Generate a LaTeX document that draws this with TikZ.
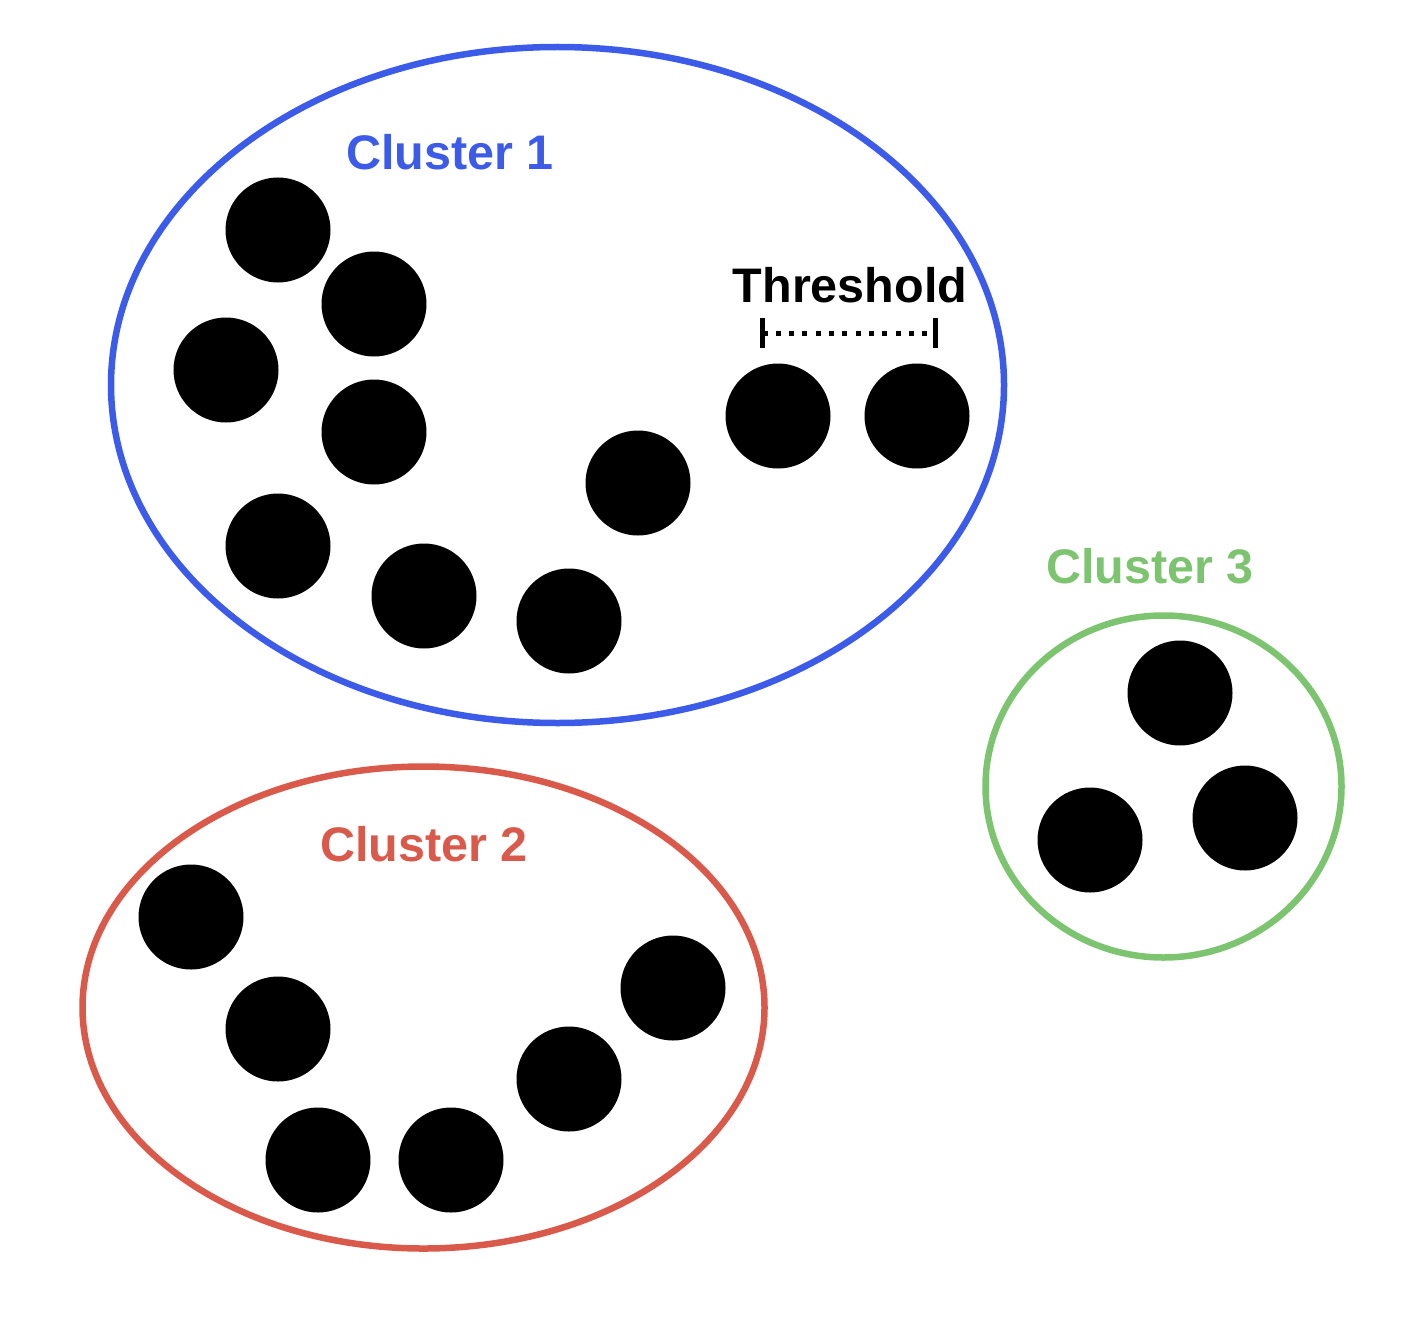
\documentclass[tikz,border=0pt]{standalone}
\usepackage{fontspec}
\setmainfont{Liberation Sans}

\definecolor{clusterblue}{RGB}{59,91,232}
\definecolor{clusterred}{RGB}{217,90,74}
\definecolor{clustergreen}{RGB}{125,196,112}

\def \dotsize {1.05cm}
\def \ringwidth {0.065cm}

\tikzset{
  point/.style={circle, fill=black, minimum size=\dotsize, inner sep=0pt},
  clustertext/.style={font=\fontsize{13.8}{16}\selectfont\bfseries}
}

\begin{document}
\begin{tikzpicture}
\useasboundingbox (0,0) rectangle (14.12,13.18);
% cluster outlines
\draw[clusterblue, line width=\ringwidth] (5.575,9.33) ellipse (4.465 and 3.38);
\draw[clusterred, line width=\ringwidth] (4.235,3.105) ellipse (3.41 and 2.41);
\draw[clustergreen, line width=\ringwidth] (11.635,5.315) ellipse (1.78 and 1.71);
% cluster 1
\node[clustertext, text=clusterblue] (lab1) at (4.50,11.66) {Cluster 1};
\node[point] (a1) at (2.78,10.88) {};
\node[point] (a2) at (3.74,10.14) {};
\node[point] (a3) at (2.26,9.48) {};
\node[point] (a4) at (3.74,8.86) {};
\node[point] (a5) at (2.78,7.72) {};
\node[point] (a6) at (4.24,7.22) {};
\node[point] (a7) at (5.69,6.97) {};
\node[point] (a8) at (6.38,8.35) {};
\node[point] (a9) at (7.78,9.02) {};
\node[point] (a10) at (9.17,9.02) {};
% threshold
\node[clustertext] (thr) at (8.50,10.33) {Threshold};
\coordinate (thl) at (7.625,9.85);
\coordinate (thrr) at (9.355,9.85);
\draw[line width=0.05cm, dash pattern=on 0.05cm off 0.083cm] (thl) -- (thrr);
\draw[line width=0.05cm] ([yshift=-0.15cm]thl) -- ([yshift=0.15cm]thl);
\draw[line width=0.05cm] ([yshift=-0.15cm]thrr) -- ([yshift=0.15cm]thrr);
% cluster 2
\node[clustertext, text=clusterred] (lab2) at (4.24,4.74) {Cluster 2};
\node[point] (b1) at (1.91,4.01) {};
\node[point] (b2) at (2.78,2.89) {};
\node[point] (b3) at (3.18,1.58) {};
\node[point] (b4) at (4.51,1.58) {};
\node[point] (b5) at (5.69,2.39) {};
\node[point] (b6) at (6.73,3.30) {};
% cluster 3
\node[clustertext, text=clustergreen] (lab3) at (11.50,7.52) {Cluster 3};
\node[point] (c1) at (11.80,6.25) {};
\node[point] (c2) at (10.90,4.78) {};
\node[point] (c3) at (12.45,5.00) {};
\end{tikzpicture}
\end{document}
